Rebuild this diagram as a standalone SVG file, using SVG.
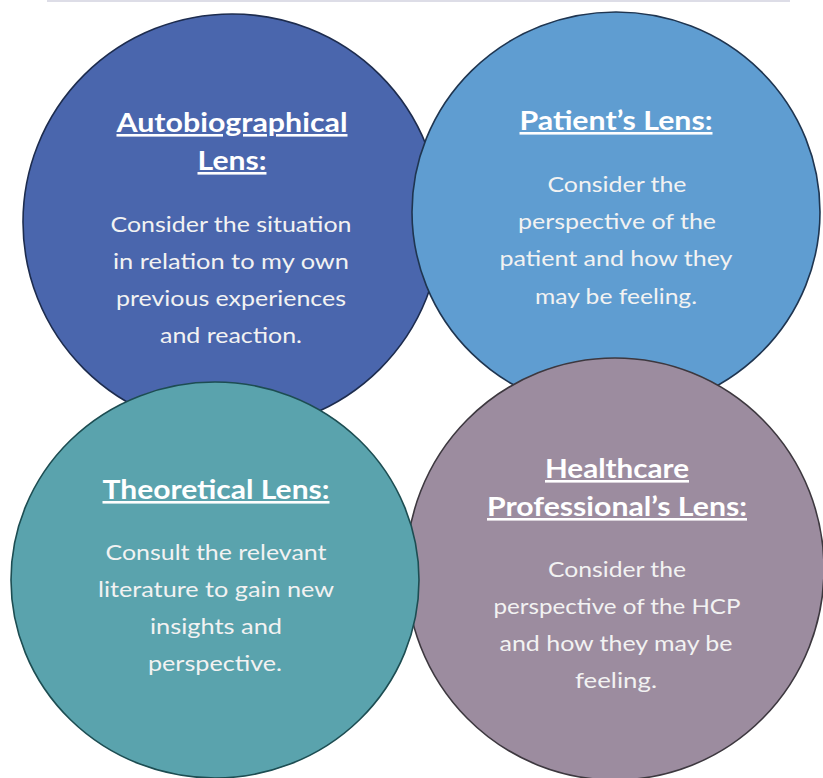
<svg xmlns="http://www.w3.org/2000/svg" width="823" height="778" viewBox="0 0 823 778">
  <style>
    .lens { stroke-width: 1.6; }
    .head { font-family: Lato, "Open Sans", "DejaVu Sans", sans-serif; font-weight: 700; font-size: 26px; fill: #ffffff; text-anchor: middle; text-decoration: underline; }
    .body { font-family: Lato, "Open Sans", "DejaVu Sans", sans-serif; font-weight: 400; font-size: 21px; fill: #f2f2f2; text-anchor: middle; }
  </style>
  <rect x="0" y="0" width="823" height="778" fill="#ffffff"/>
  <!-- thin rule along the top edge -->
  <line x1="47" y1="1" x2="790" y2="1" stroke="#dddde7" stroke-width="2"/>

  <g id="autobiographical-lens">
    <ellipse class="lens" cx="232" cy="222" rx="209" ry="208" fill="#4a66ad" stroke="#1d2c4e"/>
    <text class="head" x="232" y="132" textLength="231" lengthAdjust="spacingAndGlyphs">Autobiographical</text>
    <text class="head" x="232" y="170" textLength="69" lengthAdjust="spacingAndGlyphs">Lens:</text>
    <text class="body" x="231" y="232" textLength="241" lengthAdjust="spacingAndGlyphs">Consider the situation</text>
    <text class="body" x="231" y="269" textLength="236" lengthAdjust="spacingAndGlyphs">in relation to my own</text>
    <text class="body" x="231" y="306" textLength="230" lengthAdjust="spacingAndGlyphs">previous experiences</text>
    <text class="body" x="231" y="343" textLength="142" lengthAdjust="spacingAndGlyphs">and reaction.</text>
  </g>

  <g id="patients-lens">
    <ellipse class="lens" cx="616" cy="212" rx="204" ry="200" fill="#5f9dd1" stroke="#1f3550"/>
    <text class="head" x="616" y="130" textLength="193" lengthAdjust="spacingAndGlyphs">Patient’s Lens:</text>
    <text class="body" x="617" y="192" textLength="139" lengthAdjust="spacingAndGlyphs">Consider the</text>
    <text class="body" x="617" y="229" textLength="198" lengthAdjust="spacingAndGlyphs">perspective of the</text>
    <text class="body" x="616" y="266" textLength="233" lengthAdjust="spacingAndGlyphs">patient and how they</text>
    <text class="body" x="616" y="304" textLength="162" lengthAdjust="spacingAndGlyphs">may be feeling.</text>
  </g>

  <g id="healthcare-professionals-lens">
    <ellipse class="lens" cx="615" cy="569" rx="209" ry="211" fill="#9c8c9f" stroke="#3d383f"/>
    <text class="head" x="617" y="478" textLength="144" lengthAdjust="spacingAndGlyphs">Healthcare</text>
    <text class="head" x="617" y="516" textLength="260" lengthAdjust="spacingAndGlyphs">Professional’s Lens:</text>
    <text class="body" x="617" y="577" textLength="138" lengthAdjust="spacingAndGlyphs">Consider the</text>
    <text class="body" x="617" y="614" textLength="247" lengthAdjust="spacingAndGlyphs">perspective of the HCP</text>
    <text class="body" x="616" y="651" textLength="233" lengthAdjust="spacingAndGlyphs">and how they may be</text>
    <text class="body" x="616" y="688" textLength="82" lengthAdjust="spacingAndGlyphs">feeling.</text>
  </g>

  <g id="theoretical-lens">
    <ellipse class="lens" cx="215" cy="580" rx="204" ry="198" fill="#5aa3ad" stroke="#1d4d52"/>
    <text class="head" x="216" y="499" textLength="227" lengthAdjust="spacingAndGlyphs">Theoretical Lens:</text>
    <text class="body" x="216" y="560" textLength="221" lengthAdjust="spacingAndGlyphs">Consult the relevant</text>
    <text class="body" x="216" y="597" textLength="236" lengthAdjust="spacingAndGlyphs">literature to gain new</text>
    <text class="body" x="216" y="634" textLength="132" lengthAdjust="spacingAndGlyphs">insights and</text>
    <text class="body" x="215" y="671" textLength="134" lengthAdjust="spacingAndGlyphs">perspective.</text>
  </g>
</svg>
